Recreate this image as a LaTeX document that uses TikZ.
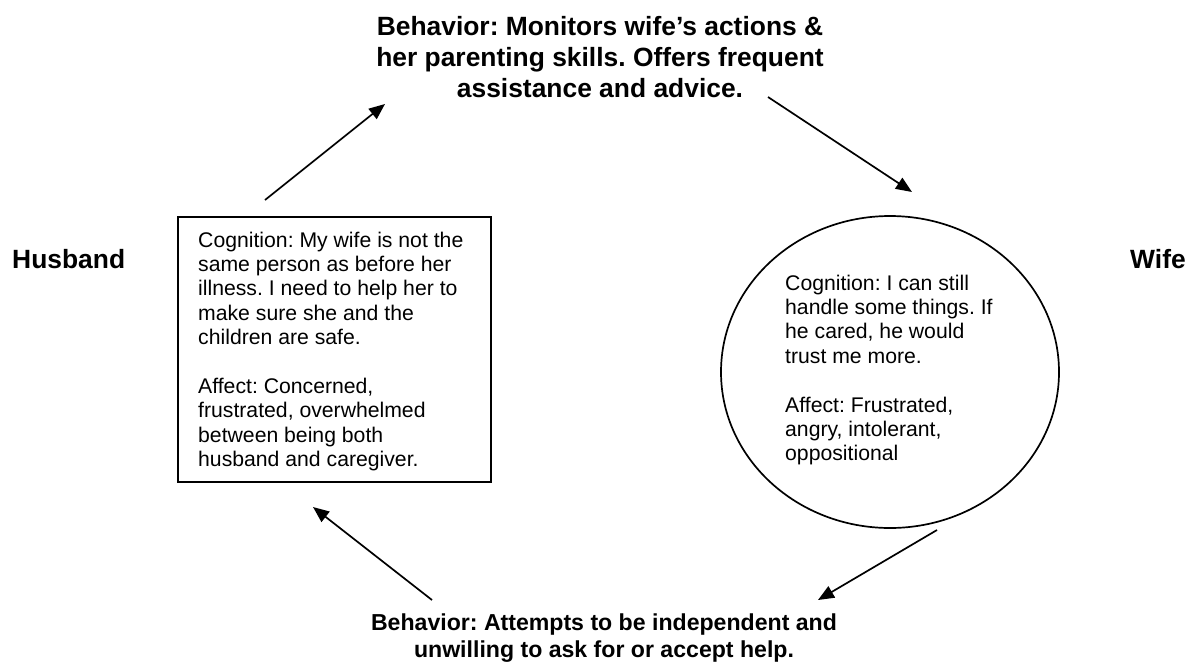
\documentclass[tikz,border=0pt]{standalone}
\usepackage{fontspec}
\setmainfont{Liberation Sans}
\usetikzlibrary{arrows.meta,shapes.geometric}
\begin{document}
\frenchspacing
\begin{tikzpicture}[x=1pt,y=-1pt,
  heading/.style={font=\fontsize{26.4}{31}\selectfont\bfseries, inner sep=0pt, align=center},
  subheading/.style={font=\fontsize{23.1}{26.6}\selectfont\bfseries, inner sep=0pt, align=center},
  side/.style={font=\fontsize{26.4}{31}\selectfont\bfseries, inner sep=0pt},
  body/.style={font=\fontsize{21.2}{24.4}\selectfont, inner sep=0pt, align=left},
  frame/.style={draw, line width=1.7pt, inner sep=0pt},
  link/.style={line width=1.7pt, -{Triangle[length=16pt,width=13pt]}}]
\useasboundingbox (0,0) rectangle (1188,665);

% husband's box and wife's ellipse
\node[frame, rectangle, anchor=north west, minimum width=313pt, minimum height=265pt] (hbox) at (177,216) {};
\node[frame, ellipse, minimum width=338pt, minimum height=312pt] (wcirc) at (890,372) {};

% inner texts (anchored on the baseline of their last line)
\node[body, anchor=base west] (htext) at (198,466.6) {Cognition: My wife is not the\\same person as before her\\illness. I need to help her to\\make sure she and the\\children are safe.\\[24.4pt]Affect: Concerned,\\frustrated, overwhelmed\\between being both\\husband and caregiver.};
\node[body, anchor=base west] (wtext) at (785,460.8) {Cognition: I can still\\handle some things. If\\he cared, he would\\trust me more.\\[24.4pt]Affect: Frustrated,\\angry, intolerant,\\oppositional};

% side labels
\node[side, anchor=base west] (husband) at (12,268) {Husband};
\node[side, anchor=base west] (wife) at (1130,268) {Wife};

% behaviour statements
\node[heading, anchor=base] (topb) at (600,97) {Behavior: Monitors wife’s actions \&\\her parenting skills. Offers frequent\\assistance and advice.};
\node[subheading, anchor=base] (botb) at (604,657) {Behavior: Attempts to be independent and\\unwilling to ask for or accept help.};

% arrow end points
\coordinate (a1s) at (265,200); \coordinate (a1e) at (385,104);
\coordinate (a2s) at (768,97);  \coordinate (a2e) at (912,192);
\coordinate (a3s) at (937,530); \coordinate (a3e) at (818,600);
\coordinate (a4s) at (432,600); \coordinate (a4e) at (313,507);

% the cycle
\draw[link] (a1s) -- (a1e);
\draw[link] (a2s) -- (a2e);
\draw[link] (a3s) -- (a3e);
\draw[link] (a4s) -- (a4e);
\end{tikzpicture}
\end{document}
